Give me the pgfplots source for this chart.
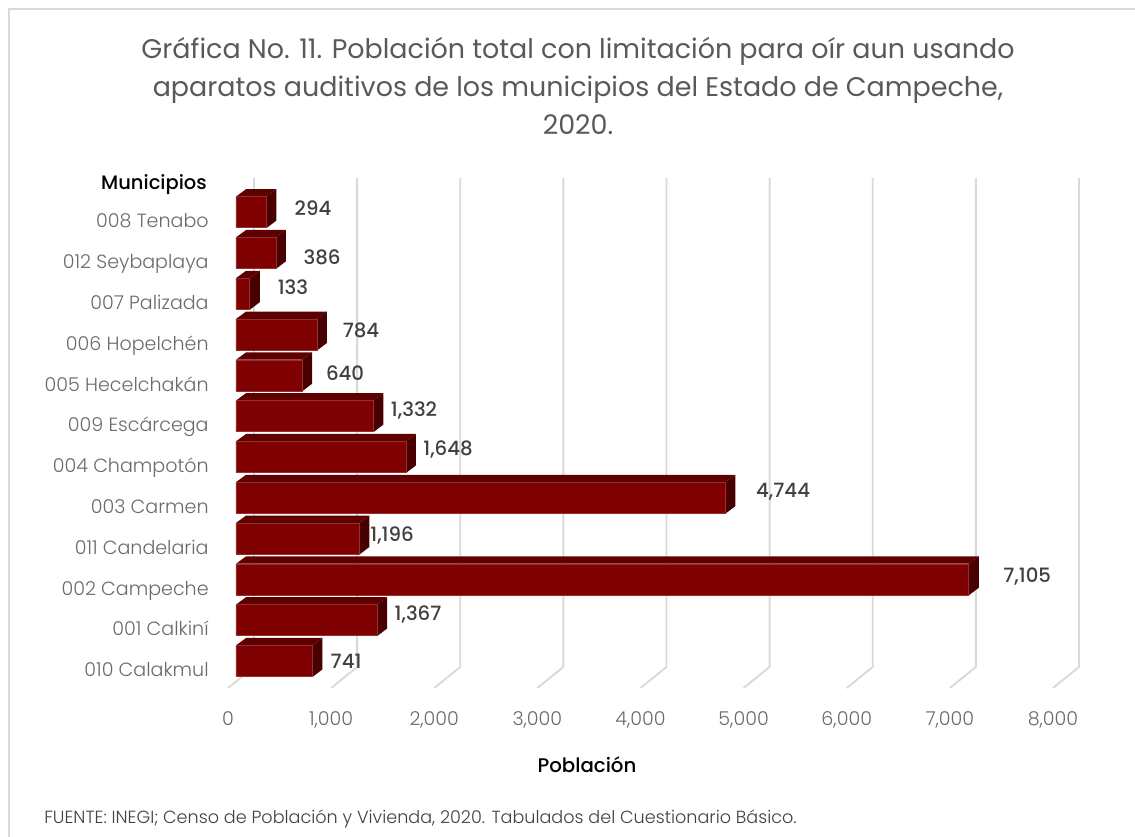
\documentclass[border=0pt]{standalone}
\usepackage{fontspec}
\setmainfont{Poppins}[UprightFont=* Light,BoldFont=* Medium]
\newfontfamily\titlefont{Poppins}
\usepackage{pgfplots}
\usepackage{pgfplotstable}
\pgfplotsset{compat=1.18}
\definecolor{barfront}{HTML}{7F0000}
\definecolor{bartop}{HTML}{5F0000}
\definecolor{barside}{HTML}{480000}
\definecolor{baredge}{HTML}{963030}
\definecolor{gridc}{HTML}{D9D9D9}
\definecolor{tickc}{HTML}{6A6A6A}
\definecolor{labelc}{HTML}{404040}

\pgfplotstableread{
y x name
0 741 a
1 1367 b
2 7105 c
3 1196 d
4 4744 e
5 1648 f
6 1332 g
7 640 h
8 784 i
9 133 j
10 386 k
11 294 l
}\bars

\pgfplotstableread{
lx ly txt
824 11.30 294
912 10.10 386
630 9.37 133
1290 8.31 784
1135 7.26 640
1804 6.33 1,332
2134 5.37 1,648
5383 4.34 4,744
1591 3.26 1,196
7750 2.26 7,105
1843 1.33 1,367
1145 0.20 741
}\barlabels

% back wall and floor line of one gridline
\newcommand{\gridl}[1]{%
  \pgfmathsetmacro{\gx}{#1+252}%
  \addplot[gridc, line width=1.4pt, forget plot] coordinates {(#1,-0.466) (\gx,0.049) (\gx,12.034)};%
}
% top and side face of a bar, front face comes from the xbar plot
\newcommand{\depth}[2]{%
  \pgfmathsetmacro{\xa}{78}%
  \pgfmathsetmacro{\xb}{#2+78}%
  \pgfmathsetmacro{\xc}{#2+175}%
  \pgfmathsetmacro{\xd}{175}%
  \pgfmathsetmacro{\ya}{#1-0.196}%
  \pgfmathsetmacro{\yb}{#1+0.58}%
  \pgfmathsetmacro{\yc}{#1+0.76}%
  \pgfmathsetmacro{\yd}{#1-0.01}%
  \addplot[bartop, fill=bartop, draw=none, forget plot] coordinates {(\xa,\yb) (\xb,\yb) (\xc,\yc) (\xd,\yc)} -- cycle;%
  \addplot[barside, fill=barside, draw=none, forget plot] coordinates {(\xb,\ya) (\xb,\yb) (\xc,\yc) (\xc,\yd)} -- cycle;%
}
\newcommand{\PX}[2]{({(#1-228)*0.75pt},{(688-#2)*0.75pt})}

\begin{document}
\begin{tikzpicture}
\path[use as bounding box] (-171pt,-111.75pt) rectangle (680.25pt,516pt);
\draw[gridc, line width=1.5pt] \PX{9}{837} -- \PX{9}{9} -- \PX{1135}{9};
\begin{axis}[
  at={(0,0)}, anchor=south west,
  scale only axis,
  width=618.75pt, height=382.5pt,
  xmin=0, xmax=8000,
  ymin=-0.466, ymax=12.034,
  clip=false,
  axis line style={draw=none},
  major tick length=0pt,
  xtick={0,1000,...,8000},
  ytick={0,...,11},
  yticklabels={010 Calakmul,001 Calkiní,002 Campeche,011 Candelaria,003 Carmen,004 Champotón,009 Escárcega,005 Hecelchakán,006 Hopelchén,007 Palizada,012 Seybaplaya,008 Tenabo},
  scaled x ticks=false,
  /pgf/number format/.cd, assume math mode=true, 1000 sep={,},
  /pgfplots/.cd,
  ticklabel style={font=\fontsize{14.3pt}{16pt}\selectfont, text=tickc},
  xticklabel style={yshift=-14pt},
  yticklabel style={xshift=-11pt, yshift=-2pt, text height=11pt, text depth=3.5pt},
]
\gridl{0}\gridl{1000}\gridl{2000}\gridl{3000}\gridl{4000}\gridl{5000}\gridl{6000}\gridl{7000}\gridl{8000}
\depth{0}{741}\depth{1}{1367}\depth{2}{7105}\depth{3}{1196}
\depth{4}{4744}\depth{5}{1648}\depth{6}{1332}\depth{7}{640}
\depth{8}{784}\depth{9}{133}\depth{10}{386}\depth{11}{294}
\addplot[xbar, bar width=23.2pt, bar shift=0pt, xshift=6pt, yshift=6pt,
  fill=barfront, draw=baredge, line width=0.4pt] table[x=x, y=y] {\bars};
\addplot[only marks, mark=none, point meta=explicit symbolic,
  nodes near coords,
  every node near coord/.append style={anchor=center, inner sep=0pt,
    font=\fontsize{14.8pt}{16pt}\bfseries, text=labelc}]
  table[x=lx, y=ly, meta=txt] {\barlabels};
\end{axis}
\node[anchor=center, align=center, text=black!65, font=\titlefont\fontsize{20.2pt}{28.5pt}\selectfont] at \PX{578}{86}
  {Gráfica No. 11. Población total con limitación para oír aun usando\\
   aparatos auditivos de los municipios del Estado de Campeche,\\
   2020.};
\node[anchor=east, inner sep=0pt, text=black, font=\fontsize{14.6pt}{16pt}\bfseries] at \PX{207}{185} {Municipios};
\node[anchor=center, inner sep=0pt, text=black, font=\fontsize{14.8pt}{16pt}\bfseries] at \PX{587}{765} {Población};
\node[anchor=west, inner sep=0pt, text=labelc, font=\fontsize{13.2pt}{14pt}\selectfont] at \PX{44}{819}
  {FUENTE: INEGI;  Censo de Población y Vivienda, 2020. Tabulados del Cuestionario Básico.};
\end{tikzpicture}
\end{document}
